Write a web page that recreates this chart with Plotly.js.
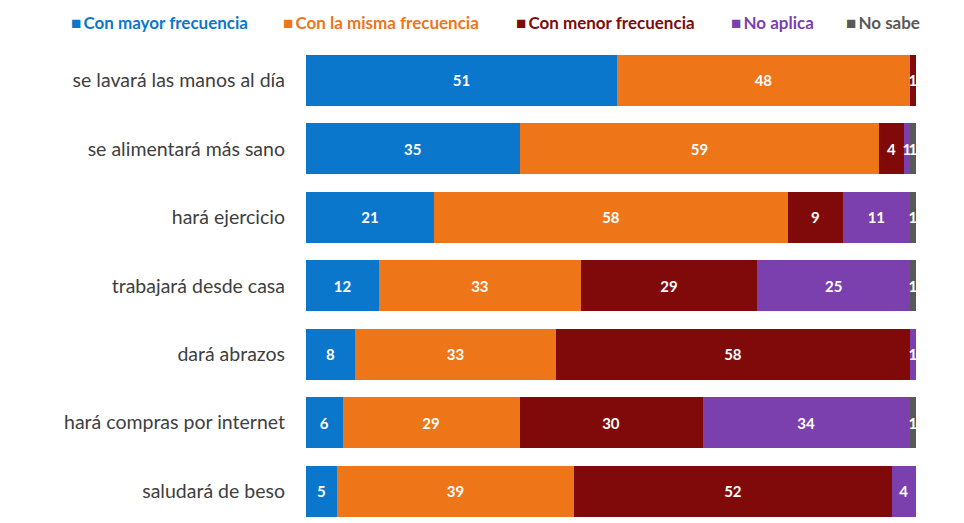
<!DOCTYPE html>
<html>
<head>
<meta charset="utf-8">
<script src="https://cdn.plot.ly/plotly-3.0.1.min.js"></script>
<style>html,body{margin:0;padding:0;background:#fff;}#chart{width:964px;height:523px;}</style>
</head>
<body>
<div id="chart"></div>
<script>
const categories = ["se lavará las manos al día","se alimentará más sano","hará ejercicio","trabajará desde casa","dará abrazos","hará compras por internet","saludará de beso"];
const seriesNames = ["Con mayor frecuencia","Con la misma frecuencia","Con menor frecuencia","No aplica","No sabe"];
const mayor  = [51, 35, 21, 12,  8,  6,  5];
const misma  = [48, 59, 58, 33, 33, 29, 39];
const menor  = [ 1,  4,  9, 29, 58, 30, 52];
const noAplica = [null, 1, 11, 25, 1, 34, 4];
const noSabe = [null, 1,  1,  1, null, 1, null];
const colors = ["#0A77CC","#EE7518","#800A0A","#7C3FAE","#595959"];

const values = [mayor, misma, menor, noAplica, noSabe];
const traces = values.map((v, i) => ({
  type: 'bar', orientation: 'h',
  y: categories, x: v, name: seriesNames[i],
  marker: {color: colors[i], line: {width: 0}},
  text: v.map(d => d == null ? '' : String(d)),
  textposition: 'inside', insidetextanchor: 'middle',
  textfont: {color: '#ffffff', size: 15, family: 'Lato, sans-serif', weight: 'bold'},
  constraintext: 'none',
  cliponaxis: false,
  hoverinfo: 'x+name',
  showlegend: false
}));

const L = 306, R = 916;
const legendPos = [69, 281, 514, 729, 844];
const annotations = seriesNames.map((n, i) => ({
  xref: 'paper', yref: 'paper',
  x: (legendPos[i] - L) / (R - L), y: 1 + (46 - 22) / 477,
  xanchor: 'left', yanchor: 'middle', showarrow: false,
  text: '<b>■\u2009' + n + '</b>',
  font: {color: colors[i], size: 17, family: 'Lato, sans-serif'}
}));

const layout = {
  width: 964, height: 523,
  margin: {l: L, r: 964 - R, t: 46, b: 0},
  barmode: 'stack', bargap: 0.255,
  paper_bgcolor: '#ffffff', plot_bgcolor: '#ffffff',
  uniformtext: {mode: 'show', minsize: 15},
  xaxis: {range: [0, 100], showgrid: false, zeroline: false, showticklabels: false, ticks: '', fixedrange: true},
  yaxis: {type: 'category', categoryorder: 'array', categoryarray: categories,
          range: [6.465, -0.5], showgrid: false, zeroline: false, ticks: '',
          ticklabelstandoff: 20,
          tickfont: {size: 19.5, color: '#404040', family: 'Lato, sans-serif'}},
  annotations: annotations,
  showlegend: false
};

Plotly.newPlot('chart', traces, layout, {displayModeBar: false, staticPlot: true});
</script>
</body>
</html>
